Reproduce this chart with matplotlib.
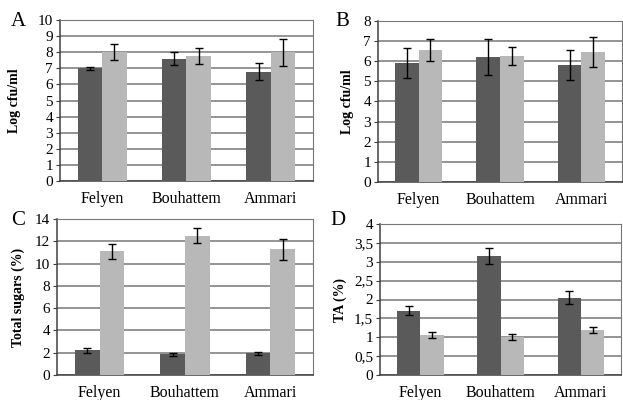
import numpy as np
import matplotlib
matplotlib.use("Agg")
import matplotlib.pyplot as plt

plt.rcParams['font.family'] = ['Liberation Serif', 'DejaVu Serif']

categories = ["Felyen", "Bouhattem", "Ammari"]

# panel A
a_dark = [7.0, 7.6, 6.8]
a_dark_err = [0.1, 0.4, 0.5]
a_light = [8.0, 7.75, 8.0]
a_light_err = [0.5, 0.5, 0.85]

# panel B
b_dark = [5.9, 6.2, 5.8]
b_dark_err = [0.75, 0.9, 0.75]
b_light = [6.55, 6.25, 6.45]
b_light_err = [0.55, 0.45, 0.75]

# panel C
c_dark = [2.2, 1.85, 1.95]
c_dark_err = [0.25, 0.1, 0.15]
c_light = [11.1, 12.5, 11.3]
c_light_err = [0.7, 0.65, 0.95]

# panel D
d_dark = [1.7, 3.15, 2.05]
d_dark_err = [0.12, 0.22, 0.18]
d_light = [1.05, 1.0, 1.2]
d_light_err = [0.08, 0.08, 0.08]
d_ticks = [0, 0.5, 1, 1.5, 2, 2.5, 3, 3.5, 4]
d_ticklabels = ["0", "0,5", "1", "1,5", "2", "2,5", "3", "3,5", "4"]

DARK = "#5a5a5a"
LIGHT = "#b8b8b8"


def paint(ax, dark, dark_err, light, light_err, ymax, step, ylabel, lpad):
    x = np.arange(len(categories))
    w = 0.29
    ax.bar(x - w / 2, dark, w, color=DARK, zorder=3)
    ax.bar(x + w / 2, light, w, color=LIGHT, zorder=3)
    ax.errorbar(x - w / 2, dark, yerr=dark_err, fmt='none', ecolor='black',
                elinewidth=1, capsize=3, capthick=1, zorder=4)
    ax.errorbar(x + w / 2, light, yerr=light_err, fmt='none', ecolor='black',
                elinewidth=1, capsize=3, capthick=1, zorder=4)
    ax.set_xlim(-0.5, len(categories) - 0.5)
    ax.set_ylim(0, ymax)
    ax.set_yticks(np.arange(0, ymax + step / 2, step))
    ax.yaxis.grid(True, color="#777777", linewidth=1.1, zorder=0)
    ax.set_axisbelow(True)
    ax.set_xticks(x)
    ax.set_xticklabels(categories, fontsize=11.5)
    ax.tick_params(axis='x', length=0, pad=7)
    ax.tick_params(axis='y', length=3, labelsize=11, pad=2, color='#404040')
    for s in ['top', 'right']:
        ax.spines[s].set_color('#777777')
    for s in ['left', 'bottom']:
        ax.spines[s].set_color('#404040')
        ax.spines[s].set_linewidth(1.1)
    ax.set_ylabel(ylabel, fontsize=10, fontweight='bold', labelpad=lpad)


fig = plt.figure(figsize=(6.23, 4.0), dpi=100)
axA = fig.add_axes([0.0963, 0.5475, 0.406, 0.4025])
axB = fig.add_axes([0.6067, 0.545, 0.392, 0.4025])
axC = fig.add_axes([0.0915, 0.0625, 0.411, 0.39])
axD = fig.add_axes([0.61, 0.0625, 0.387, 0.3775])

paint(axA, a_dark, a_dark_err, a_light, a_light_err, 10, 1, "Log cfu/ml", 12)
paint(axB, b_dark, b_dark_err, b_light, b_light_err, 8, 1, "Log cfu/ml", 7)
paint(axC, c_dark, c_dark_err, c_light, c_light_err, 14, 2, "Total sugars (%)", 7)
paint(axD, d_dark, d_dark_err, d_light, d_light_err, 4, 0.5, "TA (%)", 5)
axD.set_yticks(d_ticks)
axD.set_yticklabels(d_ticklabels)

fig.text(18 / 623, 1 - 21 / 400, "A", fontsize=15, ha='center', va='center')
fig.text(342 / 623, 1 - 21 / 400, "B", fontsize=15, ha='center', va='center')
fig.text(18 / 623, 1 - 220 / 400, "C", fontsize=15, ha='center', va='center')
fig.text(338 / 623, 1 - 220 / 400, "D", fontsize=15, ha='center', va='center')

fig.savefig("out.png", dpi=100)
